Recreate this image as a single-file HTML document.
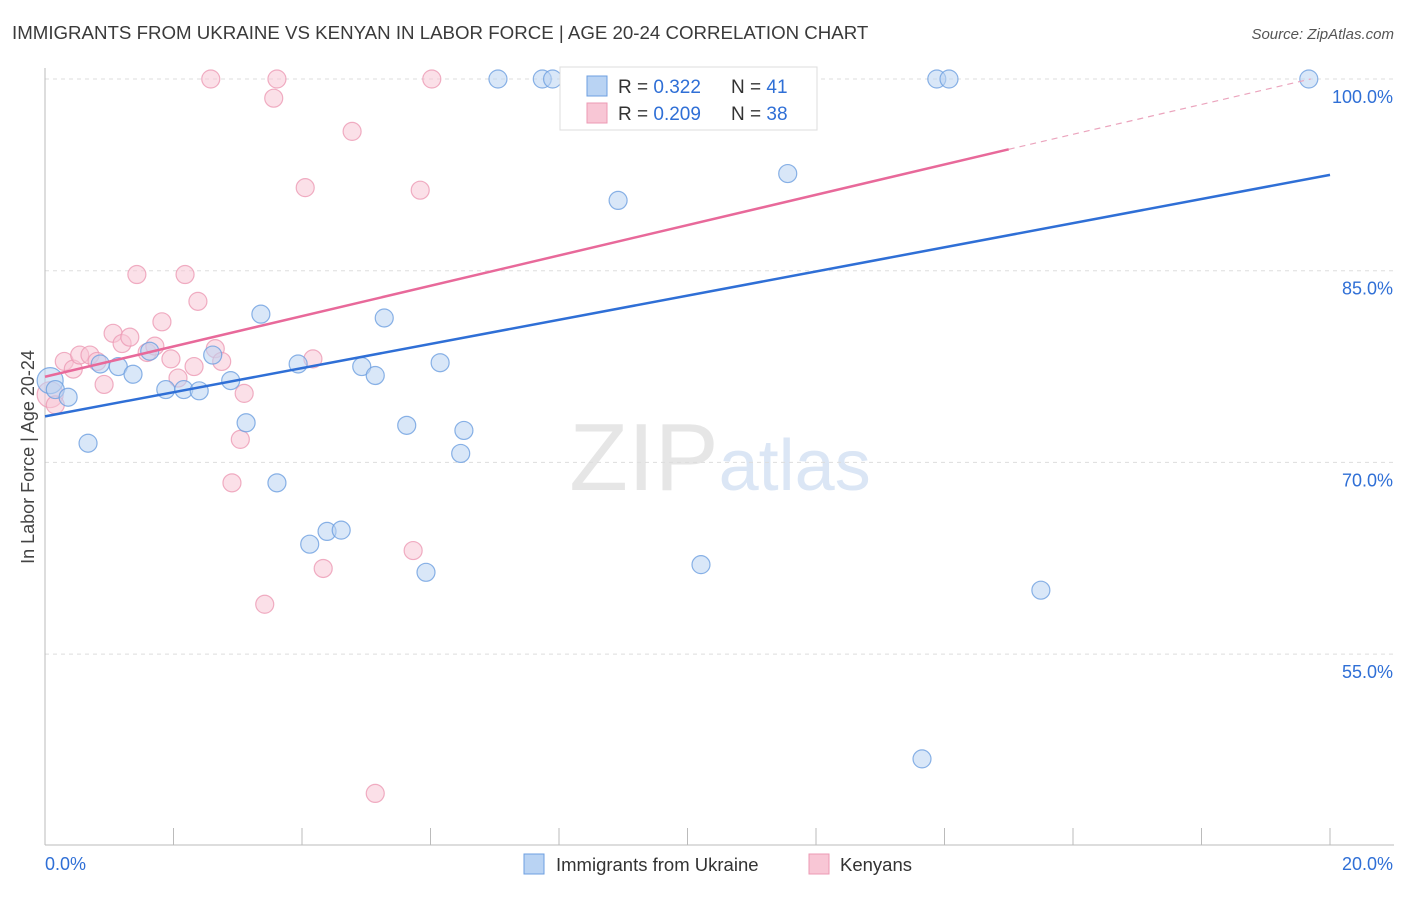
<!DOCTYPE html>
<html><head><meta charset="utf-8"><style>
body{margin:0;background:#fff;font-family:"Liberation Sans",sans-serif}
svg text{font-family:"Liberation Sans",sans-serif}
</style></head><body>
<svg id="chart" width="1406" height="892" xmlns="http://www.w3.org/2000/svg">
<text x="12" y="39" font-size="18.7" fill="#3a3a3a">IMMIGRANTS FROM UKRAINE VS KENYAN IN LABOR FORCE | AGE 20-24 CORRELATION CHART</text>
<text x="1394" y="39" font-size="15" fill="#555" text-anchor="end" font-style="italic">Source: ZipAtlas.com</text>
<text x="720" y="490" font-size="96" text-anchor="middle" fill="#e6e6e6" font-family="Liberation Serif"><tspan>ZIP</tspan><tspan fill="#dbe6f5" font-family="Liberation Sans" font-size="72">atlas</tspan></text>
<g id="grid"></g>
<g id="axes"></g>
<g id="marks"></g>
<text transform="translate(34,457) rotate(-90)" font-size="18" fill="#444" text-anchor="middle">In Labor Force | Age 20-24</text>
<g>
<rect x="560" y="67" width="257" height="63" fill="#fff" stroke="#ddd"/>
<rect x="587" y="76" width="20" height="20" fill="#b9d3f3" stroke="#6d9fe0"/>
<rect x="587" y="103" width="20" height="20" fill="#f8c6d5" stroke="#ec9ab4"/>
<text x="618" y="93" font-size="19" fill="#333">R = <tspan fill="#2f6fd6">0.322</tspan></text>
<text x="731" y="93" font-size="19" fill="#333">N = <tspan fill="#2f6fd6">41</tspan></text>
<text x="618" y="120" font-size="19" fill="#333">R = <tspan fill="#2f6fd6">0.209</tspan></text>
<text x="731" y="120" font-size="19" fill="#333">N = <tspan fill="#2f6fd6">38</tspan></text>
</g>
<g>
<rect x="524" y="854" width="20" height="20" fill="#b9d3f3" stroke="#6d9fe0"/>
<text x="556" y="871" font-size="18.5" fill="#333">Immigrants from Ukraine</text>
<rect x="809" y="854" width="20" height="20" fill="#f8c6d5" stroke="#ec9ab4"/>
<text x="840" y="871" font-size="18.5" fill="#333">Kenyans</text>
</g>
</svg>
<script>
const xTicks=[0,2,4,6,8,10,12,14,16,18,20];
const yTicks=[55,70,85,100];
const yTickLabels=["55.0%","70.0%","85.0%","100.0%"];
const blueX=[0.08,0.16,0.36,0.67,0.86,1.14,1.37,1.63,1.88,2.16,2.40,2.61,2.89,3.13,3.36,3.61,3.94,4.12,4.39,4.61,4.93,5.14,5.28,5.63,5.93,6.15,6.47,6.52,7.05,7.74,7.90,8.92,9.23,10.21,10.79,11.56,13.65,13.88,14.07,15.50,19.67];
const blueY=[76.4,75.7,75.1,71.5,77.7,77.5,76.9,78.7,75.7,75.7,75.6,78.4,76.4,73.1,81.6,68.4,77.7,63.6,64.6,64.7,77.5,76.8,81.3,72.9,61.4,77.8,70.7,72.5,100,100,100,90.5,100,62.0,100,92.6,46.8,100,100,60.0,100];
const pinkX=[0.08,0.16,0.30,0.44,0.54,0.70,0.81,0.92,1.06,1.20,1.32,1.43,1.59,1.71,1.82,1.96,2.07,2.18,2.32,2.38,2.65,2.75,2.91,3.04,3.10,3.42,2.58,3.56,3.61,4.05,4.17,4.33,4.78,5.14,5.73,5.84,6.02,10.35];
const pinkY=[75.3,74.5,77.9,77.3,78.4,78.4,77.9,76.1,80.1,79.3,79.8,84.7,78.6,79.1,81.0,78.1,76.6,84.7,77.5,82.6,78.9,77.9,68.4,71.8,75.4,58.9,100,98.5,100,91.5,78.1,61.7,95.9,44.1,63.1,91.3,100,100];
const blueTrend=[[0,73.6],[20,92.5]];
const pinkTrend=[[0,76.7],[15,94.5]];
const pinkDash=[[15,94.5],[19.7,100]];
const NS="http://www.w3.org/2000/svg";
const sx=v=>45+v*64.25, sy=v=>79+(100-v)*12.78;
function mk(t,a,p){const e=document.createElementNS(NS,t);for(const k in a)e.setAttribute(k,a[k]);document.getElementById(p).appendChild(e);return e;}
yTicks.forEach((t,i)=>{
 const l=mk('line',{x1:45,x2:1394,y1:sy(t),y2:sy(t),stroke:'#ddd','stroke-dasharray':'4,4'},'grid');
 
 
 const tx=mk('text',{x:1393,y:sy(t)+24,'font-size':18,fill:'#2f6fd6','text-anchor':'end'},'axes');
 tx.textContent=yTickLabels[i];
 
 
});
const ya=mk('line',{x1:45,x2:45,y1:68,y2:845,stroke:'#bbb'},'axes');


const xa=mk('line',{x1:45,x2:1394,y1:845,y2:845,stroke:'#bbb'},'axes');


xTicks.forEach(t=>{
 const l=mk('line',{x1:sx(t),x2:sx(t),y1:828,y2:845,stroke:'#bbb'},'axes');
 
 
});
[[0,"0.0%","start",45],[20,"20.0%","end",1393]].forEach(d=>{
 const tx=mk('text',{x:d[3],y:870,'font-size':18,fill:'#2f6fd6','text-anchor':d[2]},'axes');
 tx.textContent=d[1];
 
 
});
function dots(X,Y,fill,stroke,name){X.forEach((x,i)=>{
 const r=i===0?13:9;
 const c=mk('circle',{cx:sx(x),cy:sy(Y[i]),r:r,fill:fill,'fill-opacity':0.55,stroke:stroke,'stroke-opacity':0.8,'stroke-width':1.2},'marks');
 
 
});}
dots(pinkX,pinkY,'#f8c6d5','#ec9ab4','kenyan-point');
dots(blueX,blueY,'#b9d3f3','#6d9fe0','ukraine-point');
function tl(p,st,w,dash,name){const l=mk('line',{x1:sx(p[0][0]),y1:sy(p[0][1]),x2:sx(p[1][0]),y2:sy(p[1][1]),stroke:st,'stroke-width':w},'marks');
 if(dash)l.setAttribute('stroke-dasharray',dash);
 
 }
tl(blueTrend,'#2f6fd6',2.5,null,'ukraine-trendline');
tl(pinkTrend,'#e8699a',2.5,null,'kenyan-trendline');
tl(pinkDash,'#eba4bd',1.2,'6,5','kenyan-trendline-extension');
</script>
</body></html>
